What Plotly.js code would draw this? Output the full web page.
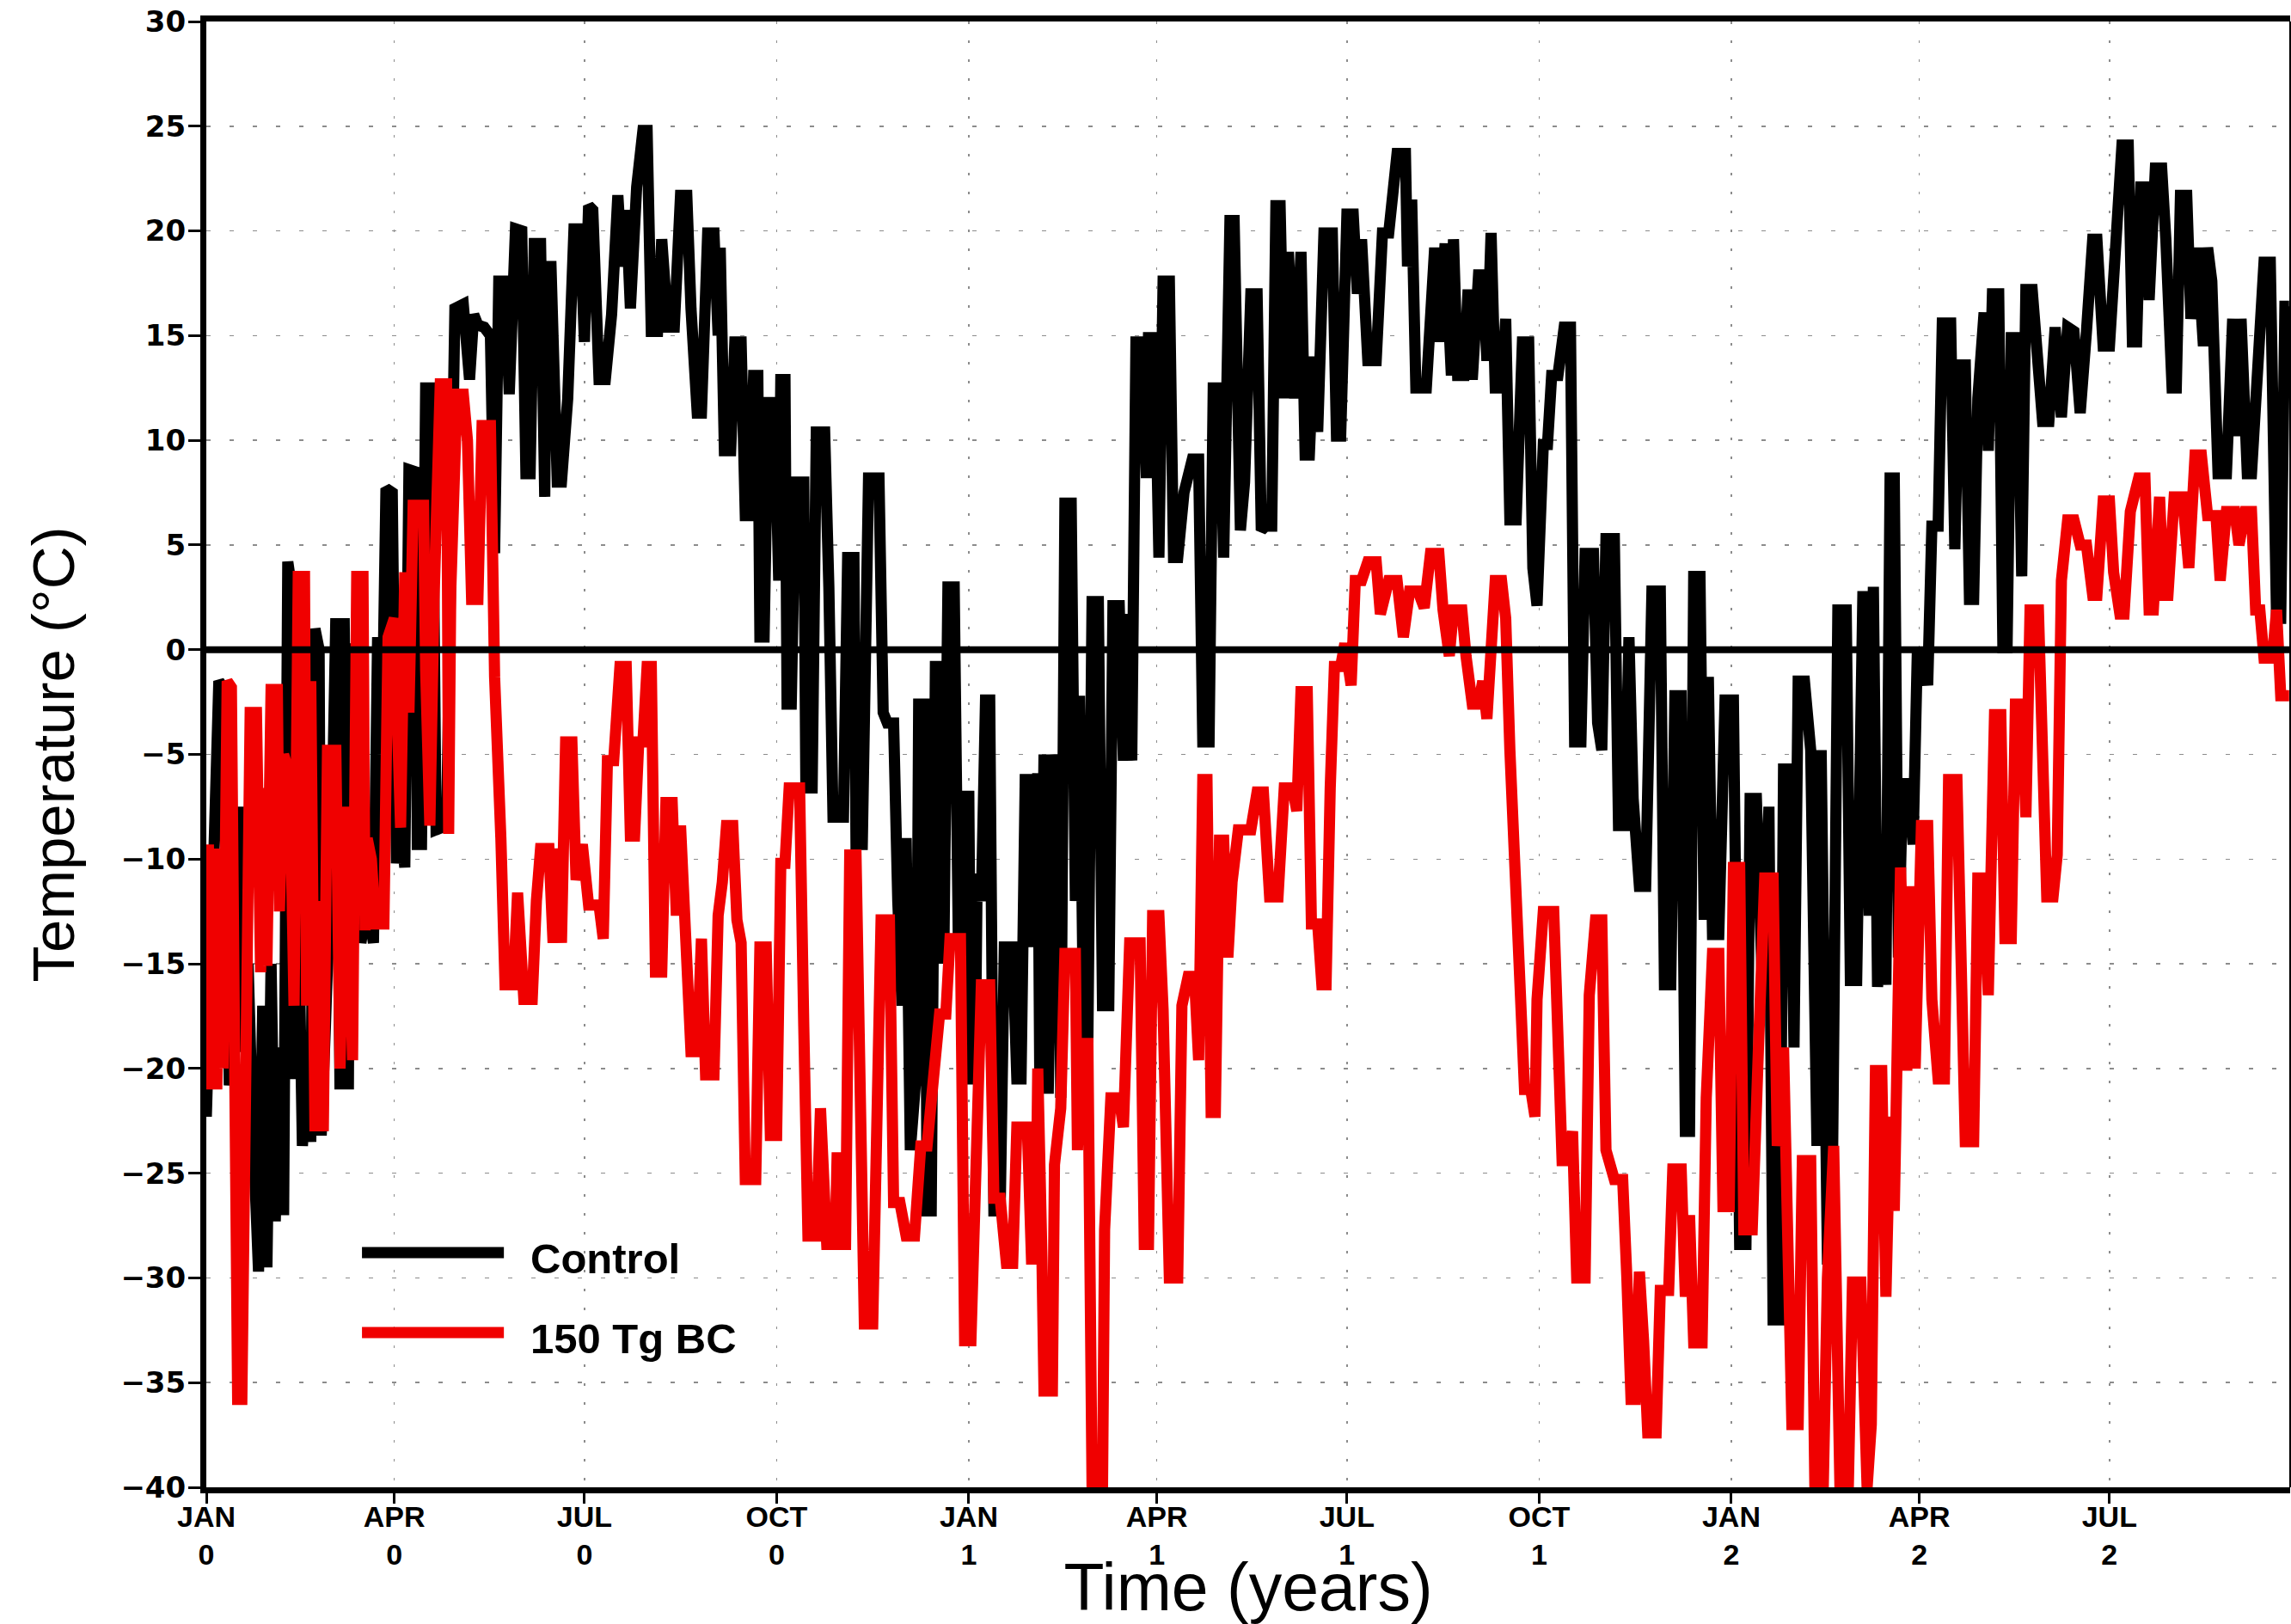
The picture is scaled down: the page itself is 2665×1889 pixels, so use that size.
<!DOCTYPE html>
<html>
<head>
<meta charset="utf-8">
<script src="https://cdn.plot.ly/plotly-3.0.1.min.js"></script>
<style>
  html, body { margin: 0; padding: 0; background: #ffffff; overflow: hidden; }
  #chart { width: 2665px; height: 1889px; }
</style>
</head>
<body>
<div id="chart"></div>
<script>
// ---- Data (day index from JAN of year 0, temperature in °C) ----
const ctrlDay = [0,2,4,6,8,10,11,13,15,17,18,20,22,25,27,29,31,33,35,37,39,40,42,44,46,48,50,52,54,55,57,60,62,64,66,68,69,72,74,77,80,82,84,86,89,91,93,95,97,100,101,103,105,108,110,113,115,117,119,123,126,128,130,133,136,138,140,143,145,148,151,153,155,157,160,162,163,165,168,170,173,176,179,181,183,185,188,191,194,197,199,
201,203,206,209,211,213,216,218,221,224,227,230,232,235,237,240,243,245,246,248,251,253,256,258,260,262,264,265,267,269,272,274,275,277,278,280,282,286,287,290,292,296,298,300,305,307,310,311,314,317,322,324,326,329,331,333,335,337,340,341,344,345,347,349,352,353,355,358,360,362,365,366,368,369,371,373,375,377,380,382,386,388,390,392,395,396,
398,399,401,403,406,408,409,411,414,416,418,420,422,424,427,429,432,434,437,439,441,443,445,448,450,451,454,456,458,461,463,465,468,472,475,477,480,482,485,487,490,492,495,497,500,503,505,507,510,512,514,516,518,521,524,526,528,530,532,535,539,541,543,546,549,551,553,556,560,563,566,570,574,575,577,579,584,588,590,593,596,
597,599,602,604,606,609,611,613,615,617,620,622,624,627,630,633,635,637,640,642,644,647,650,653,655,658,660,664,666,668,670,674,676,679,681,683,686,689,692,696,698,701,703,706,708,710,712,715,717,719,721,724,727,731,734,737,739,742,745,748,750,753,755,758,760,762,765,768,771,773,776,778,781,785,787,790,793,796,
798,800,802,804,806,808,810,812,815,817,819,822,824,826,829,831,835,837,839,842,844,846,848,851,853,855,858,860,862,864,867,869,871,874,876,879,882,885,888,891,894,897,900,903,905,908,911,914,917,920,922,924,926,928,930,933,936,938,941,943,945,948,950,953,956,958,960,963,967,970,972,974,977,979,982,985,988,991,993,995,997];
const ctrlTemp = [-22.3,-14,-5.3,-1.5,-1.8,-11.3,-20.8,-19,-12,-7.5,-19.2,-15,-22,-29.7,-17,-29.5,-15,-27.3,-19,-27,4.2,3.5,-20.5,-12,-23.7,-20,-23.5,1,0,-23.2,-18,-9,1.5,-21,1.5,-21,0.3,-5,-14,-12,-14,0.6,-5,7.7,7.5,-10.2,-8,-10.4,8.6,8.5,-9.3,-9.3,12.5,12.5,-8.6,-8.4,-8.4,4,16.3,16.5,12.9,16,15.5,15.4,15,4.6,17.6,17.6,12.2,20.1,20,8.4,8.4,19.4,19.4,7.3,18.3,18.3,8,8,12,20.1,20.1,14.7,21.2,21,12.9,12.9,16,21.7,18.3,
21,16.3,22.1,24.8,24.8,15.2,15.2,19.6,15.4,15.4,21.7,21.7,16.3,11.3,11.3,19.9,19.9,15,19.2,9.5,9.5,14.7,14.7,6.4,6.4,13.1,13.1,0.6,0.6,11.8,11.8,3.3,12.9,12.9,-2.6,-2.6,8,8,-6.6,-6.6,10.4,10.4,3,-8,-8,4.4,4.4,-9.3,-9.3,8.2,8.2,-3,-3.5,-3.5,-12,-17,-9,-23.9,-20,-2.6,-2.6,-26.8,-26.8,-0.8,-0.8,-15,3,3,-14.2,-7,-7,-20.5,-20.5,-10.7,-12,-2.4,-2.4,-26.8,-26.8,-14.2,-14.2,-20.5,-20.5,-6.2,-6.2,-14.2,
-5.9,-21,-5,-21.2,-5,-8,-21.4,7,7,-12,-2.2,-18.5,-18.5,2.3,2.3,-17,-17,2.1,2.1,-5.3,1.7,-5.3,14.7,14.7,8.2,14.9,14.9,4.4,17.6,17.6,4.4,4.4,7.5,9.1,9.1,-4.4,-4.4,12.5,12.5,4.4,20.5,20.5,5.7,8,17,17,5.7,5.9,5.9,21.2,21.2,12,19,12,19,9.3,9.3,14,10.4,19.9,19.9,10.2,10.2,20.8,20.8,17,19.6,13.8,13.8,19.9,19.9,23.7,23.7,18.3,21.5,12.5,12.5,19.2,14.7,19.4,13.1,
19.6,13.1,13.1,17.2,12.9,17.9,17.9,13.8,19.9,12.5,12.5,15.8,6.2,6.2,14.7,14.7,3.9,2.1,9.8,9.8,13.1,13.1,15.4,15.4,-4.4,-4.4,4.6,4.6,-3.5,-4.8,5.3,5.3,-8.4,-8.4,0.6,-7.1,-11.3,-11.3,2.8,2.8,-16,-16,-2.2,-2.2,-23,-23,3.5,3.5,-12.9,-1.3,-13.6,-13.6,-2.4,-2.4,-28.4,-28.4,-7.1,-7.1,-16.5,-7.5,-32,-32,-5.7,-5.7,-19,-1.5,-1.5,-4.8,-23.7,-4.8,-29.1,-29.1,1.9,1.9,-15.8,-15.8,2.8,-12.7,
3,-16.1,-12,-16,8.2,8.2,-14.7,-6.4,-6.4,-9.3,-0.3,-0.3,-1.7,5.9,5.9,15.6,15.6,4.8,13.6,13.6,2.4,2.4,12,16.1,9.5,17,17,0.1,0.1,14.9,14.9,3.5,17.2,17.2,13.8,10.9,10.9,15.4,11.1,15.4,15.2,11.3,15.2,19.6,19.6,14.5,14.5,20.1,24.1,24.1,14.7,14.7,22.1,22.1,16.7,23,23,19.6,12.5,12.5,21.7,21.7,15.8,19.2,14.5,19.2,17.6,8.4,8.4,15.8,10.2,15.8,8.4,8.4,14.3,18.5,18.5,1.5,1.5,16.4,16.4];

const bcDay = [0,1,2,3,4,5,6,7,8,10,12,13,14,15,17,18,19,20,21,24,26,27,29,31,34,35,37,40,42,44,47,48,50,52,54,56,58,62,64,67,70,72,75,76,77,79,81,85,87,90,93,95,97,99,104,105,107,109,112,115,116,117,120,123,125,127,130,132,136,137,138,141,143,147,149,152,156,158,160,164,166,168,170,172,175,177,180,183,188,190,192,195,
198,201,203,205,207,209,211,213,215,218,220,223,225,227,229,232,235,237,239,243,245,247,249,252,254,256,258,263,265,268,270,273,275,277,279,284,286,288,292,294,297,301,302,303,306,308,311,313,315,319,321,323,327,329,332,335,339,342,345,348,351,354,356,361,363,366,369,371,375,377,380,383,386,388,393,395,397,
398,400,401,405,406,409,411,416,417,419,422,424,429,430,433,437,439,442,447,449,451,453,456,458,461,465,467,470,473,475,477,479,481,483,485,487,489,491,494,500,503,506,509,513,516,520,522,524,527,529,532,534,536,538,540,543,545,548,550,553,556,560,562,566,570,573,576,580,583,586,590,592,595,
597,601,603,606,609,611,613,615,617,620,622,624,627,629,631,634,636,637,640,645,647,649,652,654,656,660,662,665,668,670,674,678,680,682,684,686,688,690,694,696,700,702,706,708,710,712,716,718,721,724,726,729,731,734,736,740,743,746,750,752,755,759,762,764,768,770,774,776,779,782,786,788,792,795,797,
799,802,804,806,808,811,814,816,818,821,824,826,829,832,834,838,840,842,846,848,851,853,856,859,861,864,866,869,871,873,877,879,881,884,886,888,891,894,897,900,903,905,908,911,913,916,918,921,925,928,930,932,935,937,939,942,946,949,952,955,958,962,964,967,971,973,976,979,981,983,985,989,991,993,997];
const bcTemp = [-17,-9.3,-21,-12,-9.5,-21,-14,-10.5,-20,-1.5,-1.8,-12,-33,-35.8,-35.8,-25,-24.6,-15,-3,-3,-15.4,-6.6,-15.1,-1.9,-1.9,-12.5,-5,-6,-17,3.5,3.5,-17,-1.5,-23,-12,-23,-4.8,-4.8,-20,-7.5,-19.6,3.5,3.5,-13.4,-9,-10,-13.1,-13.1,0.6,1.5,-8.5,3.7,-3,6.9,6.9,-1,-8.4,2.4,12.7,12.7,-8.8,2.8,12.2,12.2,10,2.4,2.4,10.7,10.7,4.8,-1.3,-9,-16,-16,-11.6,-16.7,-16.7,-12,-9.5,-9.5,-14,-9.5,-14,-4.4,-4.4,-11,-9.3,-12.2,-12.2,-13.8,-5.3,-5.3,
-0.8,-0.8,-8.9,-8.9,-4.4,-4.4,-0.8,-0.8,-15.4,-15.4,-7.3,-7.3,-12.7,-8.4,-12,-19.2,-19.2,-13.8,-20.3,-20.3,-12.7,-11.1,-8.4,-8.4,-12.9,-14,-25.3,-25.3,-14.2,-14.2,-23.2,-23.2,-10.2,-10.2,-6.6,-6.6,-18,-28,-28,-21.9,-28.4,-28.4,-24,-28.4,-28.4,-9.8,-9.8,-25,-32.2,-32.2,-20,-12.9,-12.9,-26.4,-26.4,-28,-28,-23.7,-23.7,-20,-17.4,-17.4,-13.8,-13.8,-33,-33,-20,-16,-16,-26.2,-26.2,-29.3,-29.3,-22.8,-22.8,-29.1,-29.1,
-20,-29,-35.4,-35.4,-24.6,-21.9,-14.5,-14.5,-23.9,-18.8,-18.8,-40,-40,-27.7,-21.4,-21.4,-22.8,-14,-14,-28.4,-28.4,-12.7,-12.7,-17.2,-30,-30,-17,-15.6,-15.6,-19.6,-6.2,-6.2,-22.1,-22.1,-9.1,-9.1,-14.7,-11.1,-8.6,-8.6,-6.8,-6.8,-11.8,-11.8,-6.6,-6.6,-7.7,-2,-2,-13.1,-13.1,-16,-16,-6.6,-0.8,-0.8,0.3,-1.7,3.3,3.3,4.2,4.2,1.7,3.3,3.3,0.6,2.8,2.8,2,4.6,4.6,1.9,-0.3,
1.9,1.9,-0.3,-2.6,-2.6,-1.5,-3.3,1,3.3,3.3,1.5,-4.8,-12,-17,-21,-21,-22.3,-16.7,-12.5,-12.5,-19.9,-24.4,-24.4,-23,-30,-30,-16.5,-12.9,-12.9,-23.9,-25.3,-25.3,-30,-35.8,-35.8,-29.7,-33,-37.4,-37.4,-30.6,-30.6,-24.8,-24.8,-30.9,-27,-33.1,-33.1,-21.4,-14.5,-14.5,-26.6,-26.6,-10.4,-10.4,-27.7,-27.7,-19,-10.9,-10.9,-23.7,-19,-37,-37,-24.4,-24.4,-40,-40,-30,-23.7,-40,-40,-30.2,-30.2,-40,-37,
-20.1,-20.1,-30.9,-22.3,-26.8,-10.4,-20.1,-11.3,-20,-8.4,-8.4,-16.7,-20.5,-20.5,-6.2,-6.2,-14.7,-23.5,-23.5,-10.9,-10.9,-16.5,-3.1,-3.1,-13.8,-13.8,-2.6,-2.6,-8,1.9,1.9,-7.3,-11.8,-11.8,-9.8,3.3,6.2,6.2,5,5,2.6,2.6,7.1,7.1,3.7,1.7,1.7,6.6,8.2,8.2,1.9,1.9,7.3,2.6,2.6,7.3,7.3,3.9,9.3,9.3,6.4,6.4,3.3,6.6,6.6,5,6.6,6.6,1.9,1.9,-0.4,-0.4,1.9,-2.2,-2.2];

const tickDays = [0, 90, 181, 273, 365, 455, 546, 638, 730, 820, 911];
const tickLabels = ['JAN<br>0','APR<br>0','JUL<br>0','OCT<br>0','JAN<br>1','APR<br>1','JUL<br>1','OCT<br>1','JAN<br>2','APR<br>2','JUL<br>2'];
const yTicks = [-40,-35,-30,-25,-20,-15,-10,-5,0,5,10,15,20,25,30];
const seriesNames = ['Control', '150 Tg BC'];
const seriesColors = ['#000000', 'rgb(240,0,0)'];

const traces = [
  {x: ctrlDay, y: ctrlTemp, name: seriesNames[0], type: 'scatter', mode: 'lines',
   line: {color: seriesColors[0], width: 13}},
  {x: bcDay, y: bcTemp, name: seriesNames[1], type: 'scatter', mode: 'lines',
   line: {color: seriesColors[1], width: 13}}
];

// plot area in pixels: x 240..2664, y 25..1730
const legendY = [0.1601, 0.1056];
const shapes = [
  {type: 'line', xref: 'paper', x0: 0, x1: 1, yref: 'y', y0: 0, y1: 0,
   line: {color: 'black', width: 8}, layer: 'above'},
  {type: 'line', xref: 'paper', x0: 1, x1: 1, yref: 'paper', y0: 0, y1: 1,
   line: {color: 'black', width: 2}, layer: 'above'},
  {type: 'line', xref: 'paper', x0: 0.0747, x1: 0.1428, yref: 'paper', y0: legendY[0], y1: legendY[0],
   line: {color: seriesColors[0], width: 13}, layer: 'above'},
  {type: 'line', xref: 'paper', x0: 0.0747, x1: 0.1428, yref: 'paper', y0: legendY[1], y1: legendY[1],
   line: {color: seriesColors[1], width: 13}, layer: 'above'}
];
const annotations = seriesNames.map((n, i) => ({
  text: n, xref: 'paper', yref: 'paper', x: 0.1547, y: legendY[i] - 0.004,
  xanchor: 'left', yanchor: 'middle', showarrow: false,
  font: {family: 'Liberation Sans, Arial, sans-serif', size: 49, color: 'black', weight: 'bold'}
}));

const layout = {
  width: 2665, height: 1889,
  margin: {l: 240, r: 1, t: 25, b: 159, pad: 0},
  paper_bgcolor: 'white', plot_bgcolor: 'white',
  showlegend: false,
  xaxis: {
    range: [0, 997.5], tickmode: 'array', tickvals: tickDays, ticktext: tickLabels,
    ticks: 'outside', ticklen: 12, tickwidth: 3, tickcolor: 'black',
    showline: true, linewidth: 7, linecolor: 'black', mirror: true,
    showgrid: true, gridcolor: '#8c8c8c', gridwidth: 1.5, griddash: '3px,19px',
    zeroline: false, ticklabelstandoff: -14,
    tickfont: {family: 'Liberation Sans, Arial, sans-serif', size: 34, color: 'black', weight: 'bold'},
    title: {text: 'Time (years)', standoff: 20,
            font: {family: 'Liberation Sans, Arial, sans-serif', size: 77, color: 'black'}}
  },
  yaxis: {
    range: [-40, 30], tickmode: 'array', tickvals: yTicks,
    ticks: 'outside', ticklen: 14, tickwidth: 3, tickcolor: 'black',
    showline: true, linewidth: 7, linecolor: 'black', mirror: false,
    showgrid: true, gridcolor: '#8c8c8c', gridwidth: 1.5, griddash: '5px,22px',
    zeroline: false, ticklabelstandoff: -4,
    tickfont: {family: 'DejaVu Sans, sans-serif', size: 34, color: 'black', weight: 'bold'},
    title: {text: 'Temperature (°C)', standoff: 34,
            font: {family: 'Liberation Sans, Arial, sans-serif', size: 69, color: 'black'}}
  },
  shapes: shapes,
  annotations: annotations
};

Plotly.newPlot('chart', traces, layout, {displayModeBar: false, staticPlot: true});
</script>
</body>
</html>
